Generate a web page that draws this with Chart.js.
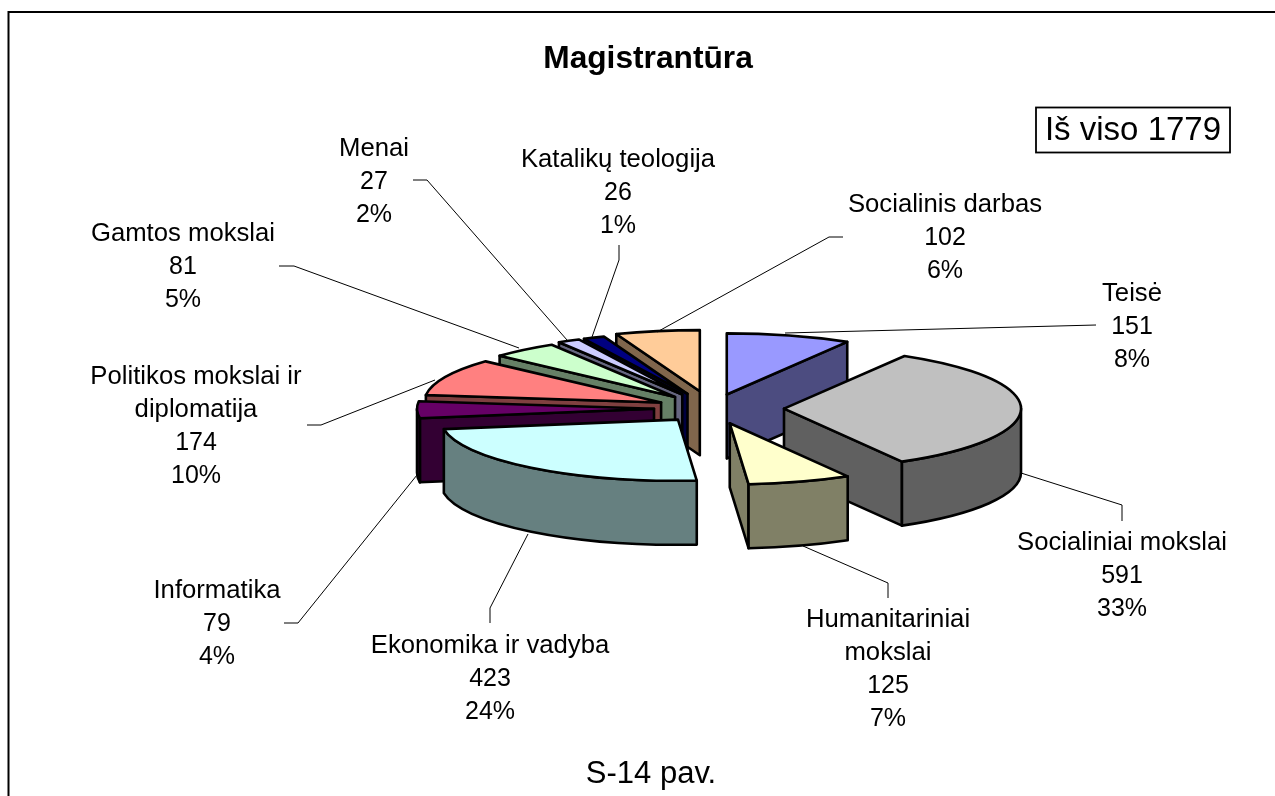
<!DOCTYPE html>
<html><head><meta charset="utf-8">
<style>html,body{margin:0;padding:0;background:#fff;overflow:hidden}canvas{display:block}</style>
<script src="https://cdn.jsdelivr.net/npm/chart.js@4/dist/chart.umd.min.js"></script>
</head><body><canvas id="c" width="1275" height="796"></canvas>
<script>
const titleText="Magistrantūra";
const captionText="S-14 pav.";
const totalText="Iš viso 1779";
const categories=["Teisė","Socialiniai mokslai","Humanitariniai mokslai","Ekonomika ir vadyba","Informatika","Politikos mokslai ir diplomatija","Gamtos mokslai","Menai","Katalikų teologija","Socialinis darbas"];
const values=[151,591,125,423,79,174,81,27,26,102];
const percents=["8%","33%","7%","24%","4%","10%","5%","2%","1%","6%"];
const topColors=["#9999FF","#C0C0C0","#FFFFCC","#CCFFFF","#660066","#FF8080","#CCFFCC","#CCCCFF","#000080","#FFCC99"];
const sideColors=["#4C4C80","#606060","#808066","#668080","#330033","#804040","#668066","#666680","#000040","#80664C"];
const explode=[56,72,60,55,58,56,58,62,62,68];
const labelLines=[["Teisė"],["Socialiniai mokslai"],["Humanitariniai","mokslai"],["Ekonomika ir vadyba"],["Informatika"],["Politikos mokslai ir","diplomatija"],["Gamtos mokslai"],["Menai"],["Katalikų teologija"],["Socialinis darbas"]];
const labelCenters=[[1132,294],[1122,543],[888,620],[490,646],[217,591],[196,377],[183,234],[374,149],[618,160],[945,205]];
const leaders=[[[1096,325],[785,333]],[[1122,521],[1122,505],[1021,473]],[[888,598],[888,583],[803,546]],[[490,623],[490,608],[528,534]],[[284,623],[298,623],[417,475]],[[307,425],[321,425],[435,380]],[[279,266],[294,266],[519,348]],[[413,180],[427,180],[567,340]],[[619,245],[619,260],[592,337]],[[843,237],[829,237],[657,332]]];
const K=0.258, DEPTH=64, FONT='"Liberation Sans", Arial, sans-serif';
const pie3d={id:'pie3d',
 beforeDatasetDraw(chart){
  const ctx=chart.ctx, arcs=chart.getDatasetMeta(0).data;
  const geo=arcs.map(a=>{const mid=(a.startAngle+a.endAngle)/2,o=a.options.offset;
    return {cx:a.x+Math.cos(mid)*o,cy:a.y+Math.sin(mid)*o*K,r:a.outerRadius,s:a.startAngle,e:a.endAngle};});
  const path=(fn)=>{ctx.beginPath();fn();ctx.closePath();};
  ctx.save();ctx.lineJoin='round';ctx.strokeStyle='#000';ctx.lineWidth=2.6;
  const order=[...geo.keys()].sort((i,j)=>{const f=g=>g.cy+(Math.sin((g.s+g.e)/2)*g.r*K);return f(geo[i])-f(geo[j]);});
  order.forEach(i=>{
   const g=geo[i];
   const px=t=>g.cx+g.r*Math.cos(t), py=t=>g.cy+g.r*K*Math.sin(t);
   ctx.fillStyle=sideColors[i];
   const face=t=>{path(()=>{ctx.moveTo(g.cx,g.cy);ctx.lineTo(px(t),py(t));ctx.lineTo(px(t),py(t)+DEPTH);ctx.lineTo(g.cx,g.cy+DEPTH);});ctx.fill();ctx.stroke();};
   if(Math.cos(g.s)<0) face(g.s);
   if(Math.cos(g.e)>0) face(g.e);
   const wall=(from,to)=>{ if(to>from){
    path(()=>{ctx.ellipse(g.cx,g.cy,g.r,g.r*K,0,from,to);ctx.lineTo(px(to),py(to)+DEPTH);ctx.ellipse(g.cx,g.cy+DEPTH,g.r,g.r*K,0,to,from,true);});
    ctx.fill();ctx.stroke();}};
   wall(Math.max(g.s,0),Math.min(g.e,Math.PI));
   ctx.fillStyle=topColors[i];
   path(()=>{ctx.moveTo(g.cx,g.cy);ctx.ellipse(g.cx,g.cy,g.r,g.r*K,0,g.s,g.e);});
   ctx.fill();ctx.stroke();
  });
  ctx.restore();
  return false;
 },
 afterDraw(chart){
  const ctx=chart.ctx;ctx.save();
  ctx.strokeStyle='#000';ctx.lineWidth=1;
  leaders.forEach(l=>{ctx.beginPath();l.forEach((p,i)=>i?ctx.lineTo(p[0],p[1]):ctx.moveTo(p[0],p[1]));ctx.stroke();});
  ctx.fillStyle='#000';ctx.textAlign='center';ctx.textBaseline='middle';
  categories.forEach((_,i)=>{
    const names=labelLines[i], lines=[...names,String(values[i]),percents[i]];
    lines.forEach((t,j)=>{
      ctx.font=(j<names.length?'25.7px ':'25px ')+FONT;
      ctx.fillText(t,labelCenters[i][0],labelCenters[i][1]+j*32.9);
    });
  });
  ctx.font='bold 31.7px '+FONT;ctx.fillText(titleText,648,59);
  ctx.font='31px '+FONT;ctx.fillText(captionText,651,774);
  ctx.font='33px '+FONT;ctx.fillText(totalText,1133,131);
  ctx.lineWidth=1.8;ctx.strokeRect(1036,107.5,194,45);
  ctx.lineWidth=2;ctx.beginPath();ctx.moveTo(8.5,796);ctx.lineTo(8.5,12);ctx.lineTo(1275,12);ctx.stroke();
  ctx.restore();
 }
};
new Chart(document.getElementById('c'),{
 type:'pie',
 data:{labels:categories,datasets:[{data:values,backgroundColor:topColors,borderColor:'#000',borderWidth:0,offset:explode}]},
 options:{responsive:false,animation:false,radius:237,
  layout:{padding:{left:149,right:0,top:21,bottom:0}},
  plugins:{legend:{display:false},tooltip:{enabled:false},title:{display:false}}},
 plugins:[pie3d]
});
</script></body></html>
